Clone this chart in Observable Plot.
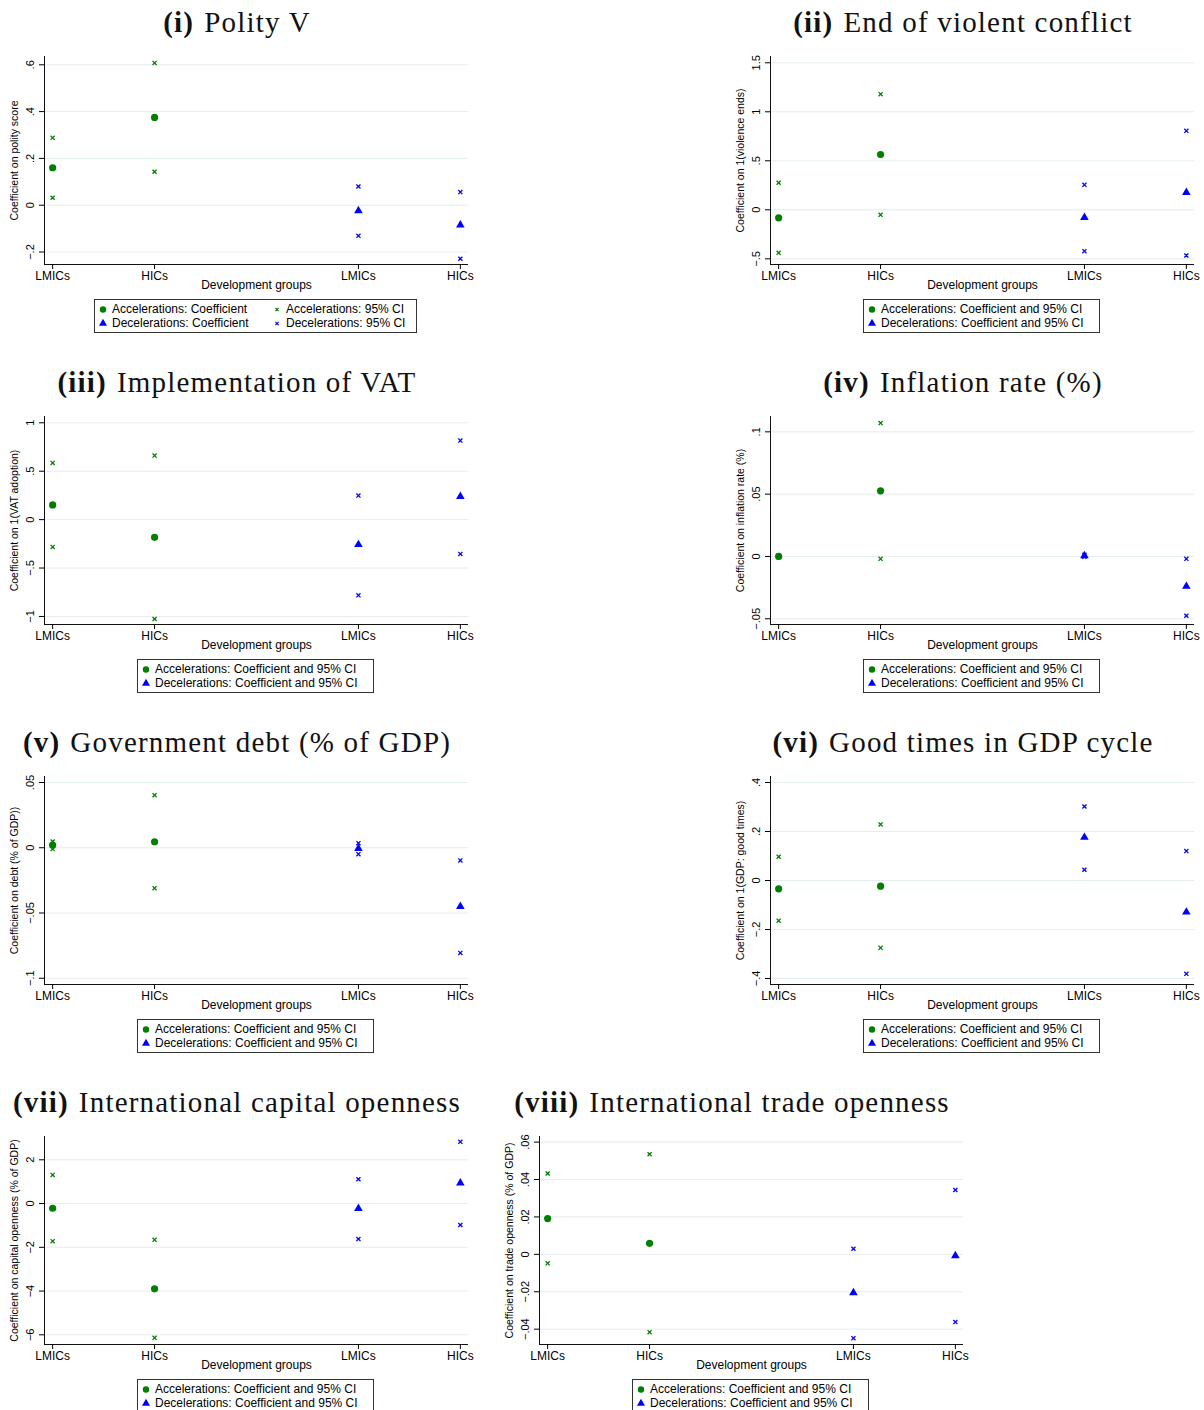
<!DOCTYPE html>
<html>
<head>
<meta charset="utf-8">
<script src="https://cdn.jsdelivr.net/npm/d3@7"></script>
<script src="https://cdn.jsdelivr.net/npm/@observablehq/plot@0.6"></script>
<style>
  body { margin: 0; background: #fff; width: 1204px; height: 1410px; overflow: hidden; position: relative;
         font-family: "Liberation Sans", Arial, sans-serif; color: #000; }
  .panel { position: absolute; width: 474px; height: 360px; }
  .title { position: absolute; top: 5px; left: 0; width: 474px; text-align: center; white-space: nowrap;
           font-family: "Liberation Serif", "Times New Roman", serif; font-size: 29px; line-height: 34px;
           letter-spacing: 1.2px; color: #111; }
  .title b { margin-right: 10px; }
  .chart { position: absolute; left: 0; top: 46px; }
  .legend { position: absolute; top: 299px; height: 32px; border: 1px solid #333; background: #fff; }
  .item { position: absolute; display: flex; align-items: center; font-size: 12px; line-height: 14px; white-space: nowrap; }
  .item svg { display: block; margin-right: 4px; }
</style>
</head>
<body>
<script>
// Development groups on the x axis: first pair = accelerations, second pair = decelerations
const groupNames = ["LMICs", "HICs", "LMICs", "HICs"];
const groupPos = [1, 2, 4, 5];
const series = ["Accelerations", "Accelerations", "Decelerations", "Decelerations"];

// (i) Polity V
const polityCoef = [0.160, 0.375, -0.024, -0.085];
const polityLo   = [0.032, 0.143, -0.131, -0.229];
const polityHi   = [0.288, 0.608, 0.080, 0.056];
const polityTicks = [-0.2, 0, 0.2, 0.4, 0.6];

// (ii) End of violent conflict
const violenceCoef = [-0.082, 0.564, -0.079, 0.177];
const violenceLo   = [-0.439, -0.051, -0.422, -0.466];
const violenceHi   = [0.276, 1.180, 0.255, 0.806];
const violenceTicks = [-0.5, 0, 0.5, 1, 1.5];

// (iii) Implementation of VAT
const vatCoef = [0.152, -0.183, -0.258, 0.238];
const vatLo   = [-0.282, -1.026, -0.782, -0.354];
const vatHi   = [0.586, 0.661, 0.248, 0.816];
const vatTicks = [-1, -0.5, 0, 0.5, 1];

// (iv) Inflation rate (%)
const inflationCoef = [0.0000, 0.0527, 0.0005, -0.0240];
const inflationLo   = [-0.0006, -0.0019, -0.0003, -0.0476];
const inflationHi   = [0.0006, 0.1070, 0.0013, -0.0019];
const inflationTicks = [-0.05, 0, 0.05, 0.1];

// (v) Government debt (% of GDP)
const debtCoef = [0.0020, 0.0046, -0.0005, -0.0450];
const debtLo   = [-0.0010, -0.0310, -0.0049, -0.0806];
const debtHi   = [0.0048, 0.0403, 0.0035, -0.0097];
const debtTicks = [-0.1, -0.05, 0, 0.05];

// (vi) Good times in GDP cycle
const cycleCoef = [-0.034, -0.023, 0.176, -0.129];
const cycleLo   = [-0.164, -0.275, 0.044, -0.381];
const cycleHi   = [0.097, 0.229, 0.302, 0.120];
const cycleTicks = [-0.4, -0.2, 0, 0.2, 0.4];

// (vii) International capital openness
const capitalCoef = [-0.215, -3.90, -0.23, 0.94];
const capitalLo   = [-1.72, -6.14, -1.62, -0.98];
const capitalHi   = [1.31, -1.66, 1.11, 2.82];
const capitalTicks = [-6, -4, -2, 0, 2];

// (viii) International trade openness
const tradeCoef = [0.0191, 0.0059, -0.0205, -0.0007];
const tradeLo   = [-0.0048, -0.0416, -0.0448, -0.0362];
const tradeHi   = [0.0432, 0.0535, 0.0030, 0.0344];
const tradeTicks = [-0.04, -0.02, 0, 0.02, 0.04, 0.06];

const GREEN = "#007f00";
const BLUE = "#0000ff";

const panels = [
  {num: "(i)", name: "Polity V", coef: polityCoef, lo: polityLo, hi: polityHi, ticks: polityTicks,
   y: [-0.2534, 0.6355], ylabel: "Coefficient on polity score", left: 0, top: 0, split: true},
  {num: "(ii)", name: "End of violent conflict", coef: violenceCoef, lo: violenceLo, hi: violenceHi, ticks: violenceTicks,
   y: [-0.558, 1.564], ylabel: "Coefficient on 1(violence ends)", left: 726, top: 0},
  {num: "(iii)", name: "Implementation of VAT", coef: vatCoef, lo: vatLo, hi: vatHi, ticks: vatTicks,
   y: [-1.083, 1.065], ylabel: "Coefficient on 1(VAT adoption)", left: 0, top: 360},
  {num: "(iv)", name: "Inflation rate (%)", coef: inflationCoef, lo: inflationLo, hi: inflationHi, ticks: inflationTicks,
   y: [-0.0546, 0.1123], ylabel: "Coefficient on inflation rate (%)", left: 726, top: 360},
  {num: "(v)", name: "Government debt (% of GDP)", coef: debtCoef, lo: debtLo, hi: debtHi, ticks: debtTicks,
   y: [-0.1048, 0.0546], ylabel: "Coefficient on debt (% of GDP))", left: 0, top: 720},
  {num: "(vi)", name: "Good times in GDP cycle", coef: cycleCoef, lo: cycleLo, hi: cycleHi, ticks: cycleTicks,
   y: [-0.4245, 0.4245], ylabel: "Coefficient on 1(GDP: good times)", left: 726, top: 720},
  {num: "(vii)", name: "International capital openness", coef: capitalCoef, lo: capitalLo, hi: capitalHi, ticks: capitalTicks,
   y: [-6.443, 3.065], ylabel: "Coefficient on capital openness (% of GDP)", left: 0, top: 1080},
  {num: "(viii)", name: "International trade openness", coef: tradeCoef, lo: tradeLo, hi: tradeHi, ticks: tradeTicks,
   y: [-0.0482, 0.063], ylabel: "Coefficient on trade openness (% of GDP)", left: 495, top: 1080}
];

// Stata-style tick labels: ".2", "−.5", "1.5"
const stataFmt = d => {
  if (d === 0) return "0";
  const s = d3.format("~g")(Math.abs(d)).replace(/^0\./, ".");
  return (d < 0 ? "\u2212" : "") + s;
};
const groupLabel = new Map(groupPos.map((p, i) => [p, groupNames[i]]));
const X_DOMAIN = [0.92, 5.08];

function symbolSvg(type, color) {
  const svg = d3.create("svg").attr("width", 10).attr("height", 10);
  const g = svg.append("g").attr("transform", "translate(5,5.5)");
  if (type === "circle") g.append("circle").attr("r", 3.2).attr("fill", color);
  else if (type === "triangle") g.append("path").attr("d", d3.symbol(d3.symbolTriangle, 28)()).attr("fill", color);
  else g.append("path").attr("d", d3.symbol(d3.symbolTimes, 8)()).attr("stroke", color).attr("fill", "none").attr("stroke-width", 1.2);
  return svg.node();
}

function legendItem(parent, left, top, type, color, text) {
  const it = document.createElement("div");
  it.className = "item";
  it.style.left = left + "px";
  it.style.top = top + "px";
  it.appendChild(symbolSvg(type, color));
  const span = document.createElement("span");
  span.textContent = text;
  it.appendChild(span);
  parent.appendChild(it);
}

for (const p of panels) {
  const div = document.createElement("div");
  div.className = "panel";
  div.style.left = p.left + "px";
  div.style.top = p.top + "px";
  document.body.appendChild(div);

  const title = document.createElement("div");
  title.className = "title";
  title.innerHTML = `<b>${p.num}</b>${p.name}`;
  div.appendChild(title);

  const coefRows = groupPos.map((x, i) => ({x, v: p.coef[i], s: series[i]}));
  const ciRows = groupPos.flatMap((x, i) => [
    {x, v: p.lo[i], s: series[i]},
    {x, v: p.hi[i], s: series[i]}
  ]);

  const chart = Plot.plot({
    width: 470, height: 248,
    marginTop: 10, marginBottom: 30, marginLeft: 44, marginRight: 2,
    style: {fontFamily: "'Liberation Sans', Arial, sans-serif", fontSize: "11px", color: "#000", background: "transparent", overflow: "visible"},
    x: {domain: X_DOMAIN, axis: null},
    y: {domain: p.y, axis: null},
    marks: [
      Plot.gridY({ticks: p.ticks, stroke: "#e4edef", strokeOpacity: 1, strokeWidth: 1}),
      Plot.ruleX([X_DOMAIN[0]], {stroke: "#111", strokeWidth: 1}),
      Plot.ruleY([p.y[0]], {stroke: "#111", strokeWidth: 1}),
      Plot.axisX({ticks: groupPos, tickFormat: d => groupLabel.get(d), tickSize: 5, tickPadding: 2, fontSize: 12, label: null}),
      Plot.axisY({ticks: p.ticks, tickFormat: stataFmt, tickRotate: -90, tickSize: 5, tickPadding: 6, fontSize: 11, label: null}),
      Plot.text(["Development groups"], {frameAnchor: "bottom", dy: 24, fontSize: 12}),
      Plot.text([p.ylabel], {frameAnchor: "left", dx: -30, rotate: -90, textAnchor: "middle", fontSize: 10.5}),
      Plot.dot(ciRows.filter(d => d.s === "Accelerations"), {x: "x", y: "v", symbol: "times", r: 2, stroke: GREEN, strokeWidth: 1.3}),
      Plot.dot(ciRows.filter(d => d.s === "Decelerations"), {x: "x", y: "v", symbol: "times", r: 2, stroke: BLUE, strokeWidth: 1.3}),
      Plot.dot(coefRows.filter(d => d.s === "Accelerations"), {x: "x", y: "v", symbol: "circle", r: 3.6, fill: GREEN, stroke: null}),
      Plot.dot(coefRows.filter(d => d.s === "Decelerations"), {x: "x", y: "v", symbol: "triangle", r: 3.2, fill: BLUE, stroke: null})
    ]
  });
  chart.classList.add("chart");
  div.appendChild(chart);

  const leg = document.createElement("div");
  leg.className = "legend";
  div.appendChild(leg);
  if (p.split) {
    leg.style.left = "94px";
    leg.style.width = "321px";
    legendItem(leg, 3, 2, "circle", GREEN, "Accelerations: Coefficient");
    legendItem(leg, 3, 16, "triangle", BLUE, "Decelerations: Coefficient");
    legendItem(leg, 177, 2, "times", GREEN, "Accelerations: 95% CI");
    legendItem(leg, 177, 16, "times", BLUE, "Decelerations: 95% CI");
  } else {
    leg.style.left = "137px";
    leg.style.width = "235px";
    legendItem(leg, 3, 2, "circle", GREEN, "Accelerations: Coefficient and 95% CI");
    legendItem(leg, 3, 16, "triangle", BLUE, "Decelerations: Coefficient and 95% CI");
  }
}
</script>
</body>
</html>
